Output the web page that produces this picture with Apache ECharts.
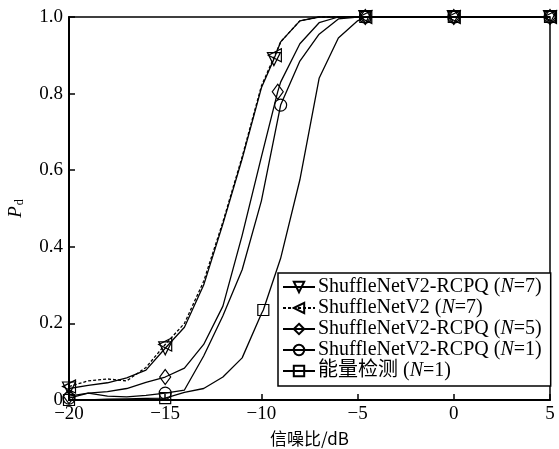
<!DOCTYPE html>
<html>
<head>
<meta charset="utf-8">
<script src="https://cdn.jsdelivr.net/npm/echarts@6/dist/echarts.min.js"></script>
<style>
  html, body { margin: 0; padding: 0; background: #fff; }
  #main { width: 559px; height: 449px; }
</style>
</head>
<body>
<div id="main"></div>
<script>
// 信噪比 (dB)
var snr = [-20, -19, -18, -17, -16, -15, -14, -13, -12, -11, -10, -9, -8, -7, -6, -5, -4, -3, -2, -1, 0, 1, 2, 3, 4, 5];
var xTicks = [-20, -15, -10, -5, 0, 5];
var yTicks = [0, 0.2, 0.4, 0.6, 0.8, 1.0];

// 检测概率 Pd
var rcpq7 = [0.030, 0.038, 0.045, 0.058, 0.078, 0.135, 0.190, 0.300, 0.460, 0.630, 0.815, 0.935, 0.990, 1, 1, 1, 1, 1, 1, 1, 1, 1, 1, 1, 1, 1];
var shuffle7 = [0.035, 0.050, 0.055, 0.050, 0.085, 0.145, 0.200, 0.310, 0.465, 0.635, 0.820, 0.935, 0.990, 1, 1, 1, 1, 1, 1, 1, 1, 1, 1, 1, 1, 1];
var rcpq5 = [0.010, 0.018, 0.022, 0.030, 0.046, 0.060, 0.083, 0.145, 0.245, 0.430, 0.635, 0.830, 0.930, 0.985, 1, 1, 1, 1, 1, 1, 1, 1, 1, 1, 1, 1];
var rcpq1 = [0.005, 0.018, 0.010, 0.008, 0.012, 0.018, 0.026, 0.115, 0.220, 0.340, 0.520, 0.770, 0.885, 0.955, 0.995, 1, 1, 1, 1, 1, 1, 1, 1, 1, 1, 1];
var energy1 = [0, 0, 0.002, 0.003, 0.004, 0.005, 0.020, 0.030, 0.060, 0.110, 0.225, 0.370, 0.575, 0.840, 0.945, 0.990, 1, 1, 1, 1, 1, 1, 1, 1, 1, 1];

// 标记点位置
var rcpq7MarkX = [-20, -15, -9.35, -4.6, 0, 5];
var rcpq7MarkY = [0.030, 0.135, 0.890, 1, 1, 1];
var shuffle7MarkX = [-20, -15, -9.3, -4.6, 0, 5];
var shuffle7MarkY = [0.035, 0.145, 0.900, 1, 1, 1];
var rcpq5MarkX = [-20, -15, -9.15, -4.6, 0, 5];
var rcpq5MarkY = [0.010, 0.060, 0.805, 1, 1, 1];
var rcpq1MarkX = [-20, -15, -9.0, -4.6, 0, 5];
var rcpq1MarkY = [0.005, 0.018, 0.770, 1, 1, 1];
var energy1MarkX = [-20, -15, -9.9, -4.6, 0, 5];
var energy1MarkY = [0, 0.005, 0.235, 1, 1, 1];

var names = [
    'ShuffleNetV2-RCPQ (N=7)',
    'ShuffleNetV2 (N=7)',
    'ShuffleNetV2-RCPQ (N=5)',
    'ShuffleNetV2-RCPQ (N=1)',
    '能量检测 (N=1)'
];

var FONT = '"Liberation Serif", "Noto Sans CJK SC", serif';

function buildData(ys, mx, my) {
    var pts = snr.map(function (x, i) {
        return { value: [x, ys[i]], symbol: 'none' };
    });
    mx.forEach(function (x, k) {
        var j = snr.indexOf(x);
        if (j >= 0) {
            pts[j] = { value: [x, ys[j]] };
        } else {
            pts.push({ value: [x, my[k]] });
        }
    });
    return pts.sort(function (a, b) { return a.value[0] - b.value[0]; });
}

function mkSeries(name, ys, mx, my, symbol, size, rotate, dashed) {
    return {
        name: name,
        type: 'line',
        data: buildData(ys, mx, my),
        symbol: symbol,
        symbolSize: size,
        symbolRotate: rotate,
        showSymbol: true,
        clip: false,
        animation: false,
        lineStyle: { color: '#000', width: 1.3, type: dashed ? [3, 2] : 'solid' },
        itemStyle: { color: 'rgba(255,255,255,0)', borderColor: '#000', borderWidth: 1.2 }
    };
}

var myChart = echarts.init(document.getElementById('main'));

var option = {
    backgroundColor: '#fff',
    animation: false,
    grid: {
        left: 69, right: 9, top: 17, bottom: 49,
        outerBoundsMode: 'none',
        containLabel: false,
        show: true, borderColor: '#000', borderWidth: 1.5, backgroundColor: 'transparent'
    },
    legend: {
        orient: 'vertical',
        left: 278,
        top: 273,
        itemWidth: 32,
        itemHeight: 13,
        itemGap: 1,
        padding: [4, 9, 5, 4],
        backgroundColor: '#fff',
        borderColor: '#000',
        borderWidth: 1.5,
        borderRadius: 0,
        data: names,
        formatter: function (n) {
            return n.replace('(N=', '({i|N}=');
        },
        textStyle: {
            fontFamily: FONT, fontSize: 20, color: '#000', padding: [0, 0, 0, -2],
            rich: {
                i: { fontFamily: FONT, fontSize: 20, fontStyle: 'italic', color: '#000' }
            }
        }
    },
    xAxis: {
        type: 'value',
        min: -20, max: 5, interval: 5,
        name: '信噪比/dB',
        nameLocation: 'middle',
        nameGap: 30,
        nameTextStyle: { fontFamily: '"Noto Sans CJK SC", sans-serif', fontSize: 17, color: '#000' },
        axisLine: { onZero: false, lineStyle: { color: '#000', width: 2 } },
        axisTick: { inside: true, length: 6, lineStyle: { color: '#000', width: 1.5 } },
        splitLine: { show: false },
        axisLabel: {
            margin: 5,
            fontFamily: FONT, fontSize: 19, color: '#000',
            customValues: xTicks,
            formatter: function (v) { return String(v).replace('-', '\u2212'); }
        }
    },
    yAxis: {
        type: 'value',
        min: 0, max: 1, interval: 0.2,
        name: '{p|P}{d|d}',
        nameLocation: 'middle',
        nameGap: 43,
        nameRotate: 90,
        nameTextStyle: {
            rich: {
                p: { fontFamily: FONT, fontSize: 19, fontStyle: 'italic', color: '#000' },
                d: { fontFamily: FONT, fontSize: 12, color: '#000', padding: [8, 0, 0, 1] }
            }
        },
        axisLine: { onZero: false, lineStyle: { color: '#000', width: 2 } },
        axisTick: { inside: true, length: 6, lineStyle: { color: '#000', width: 1.5 } },
        splitLine: { show: false },
        axisLabel: {
            margin: 6,
            fontFamily: FONT, fontSize: 19, color: '#000',
            formatter: function (v) { return v === 0 ? '0' : v.toFixed(1); }
        }
    },
    series: [
        mkSeries(names[0], rcpq7, rcpq7MarkX, rcpq7MarkY, 'triangle', 13, 180, false),
        mkSeries(names[1], shuffle7, shuffle7MarkX, shuffle7MarkY, 'triangle', 13, 90, true),
        mkSeries(names[2], rcpq5, rcpq5MarkX, rcpq5MarkY, 'diamond', [11, 15], 0, false),
        mkSeries(names[3], rcpq1, rcpq1MarkX, rcpq1MarkY, 'circle', 12, 0, false),
        mkSeries(names[4], energy1, energy1MarkX, energy1MarkY, 'rect', 11, 0, false)
    ]
};

option && myChart.setOption(option);
</script>
</body>
</html>
